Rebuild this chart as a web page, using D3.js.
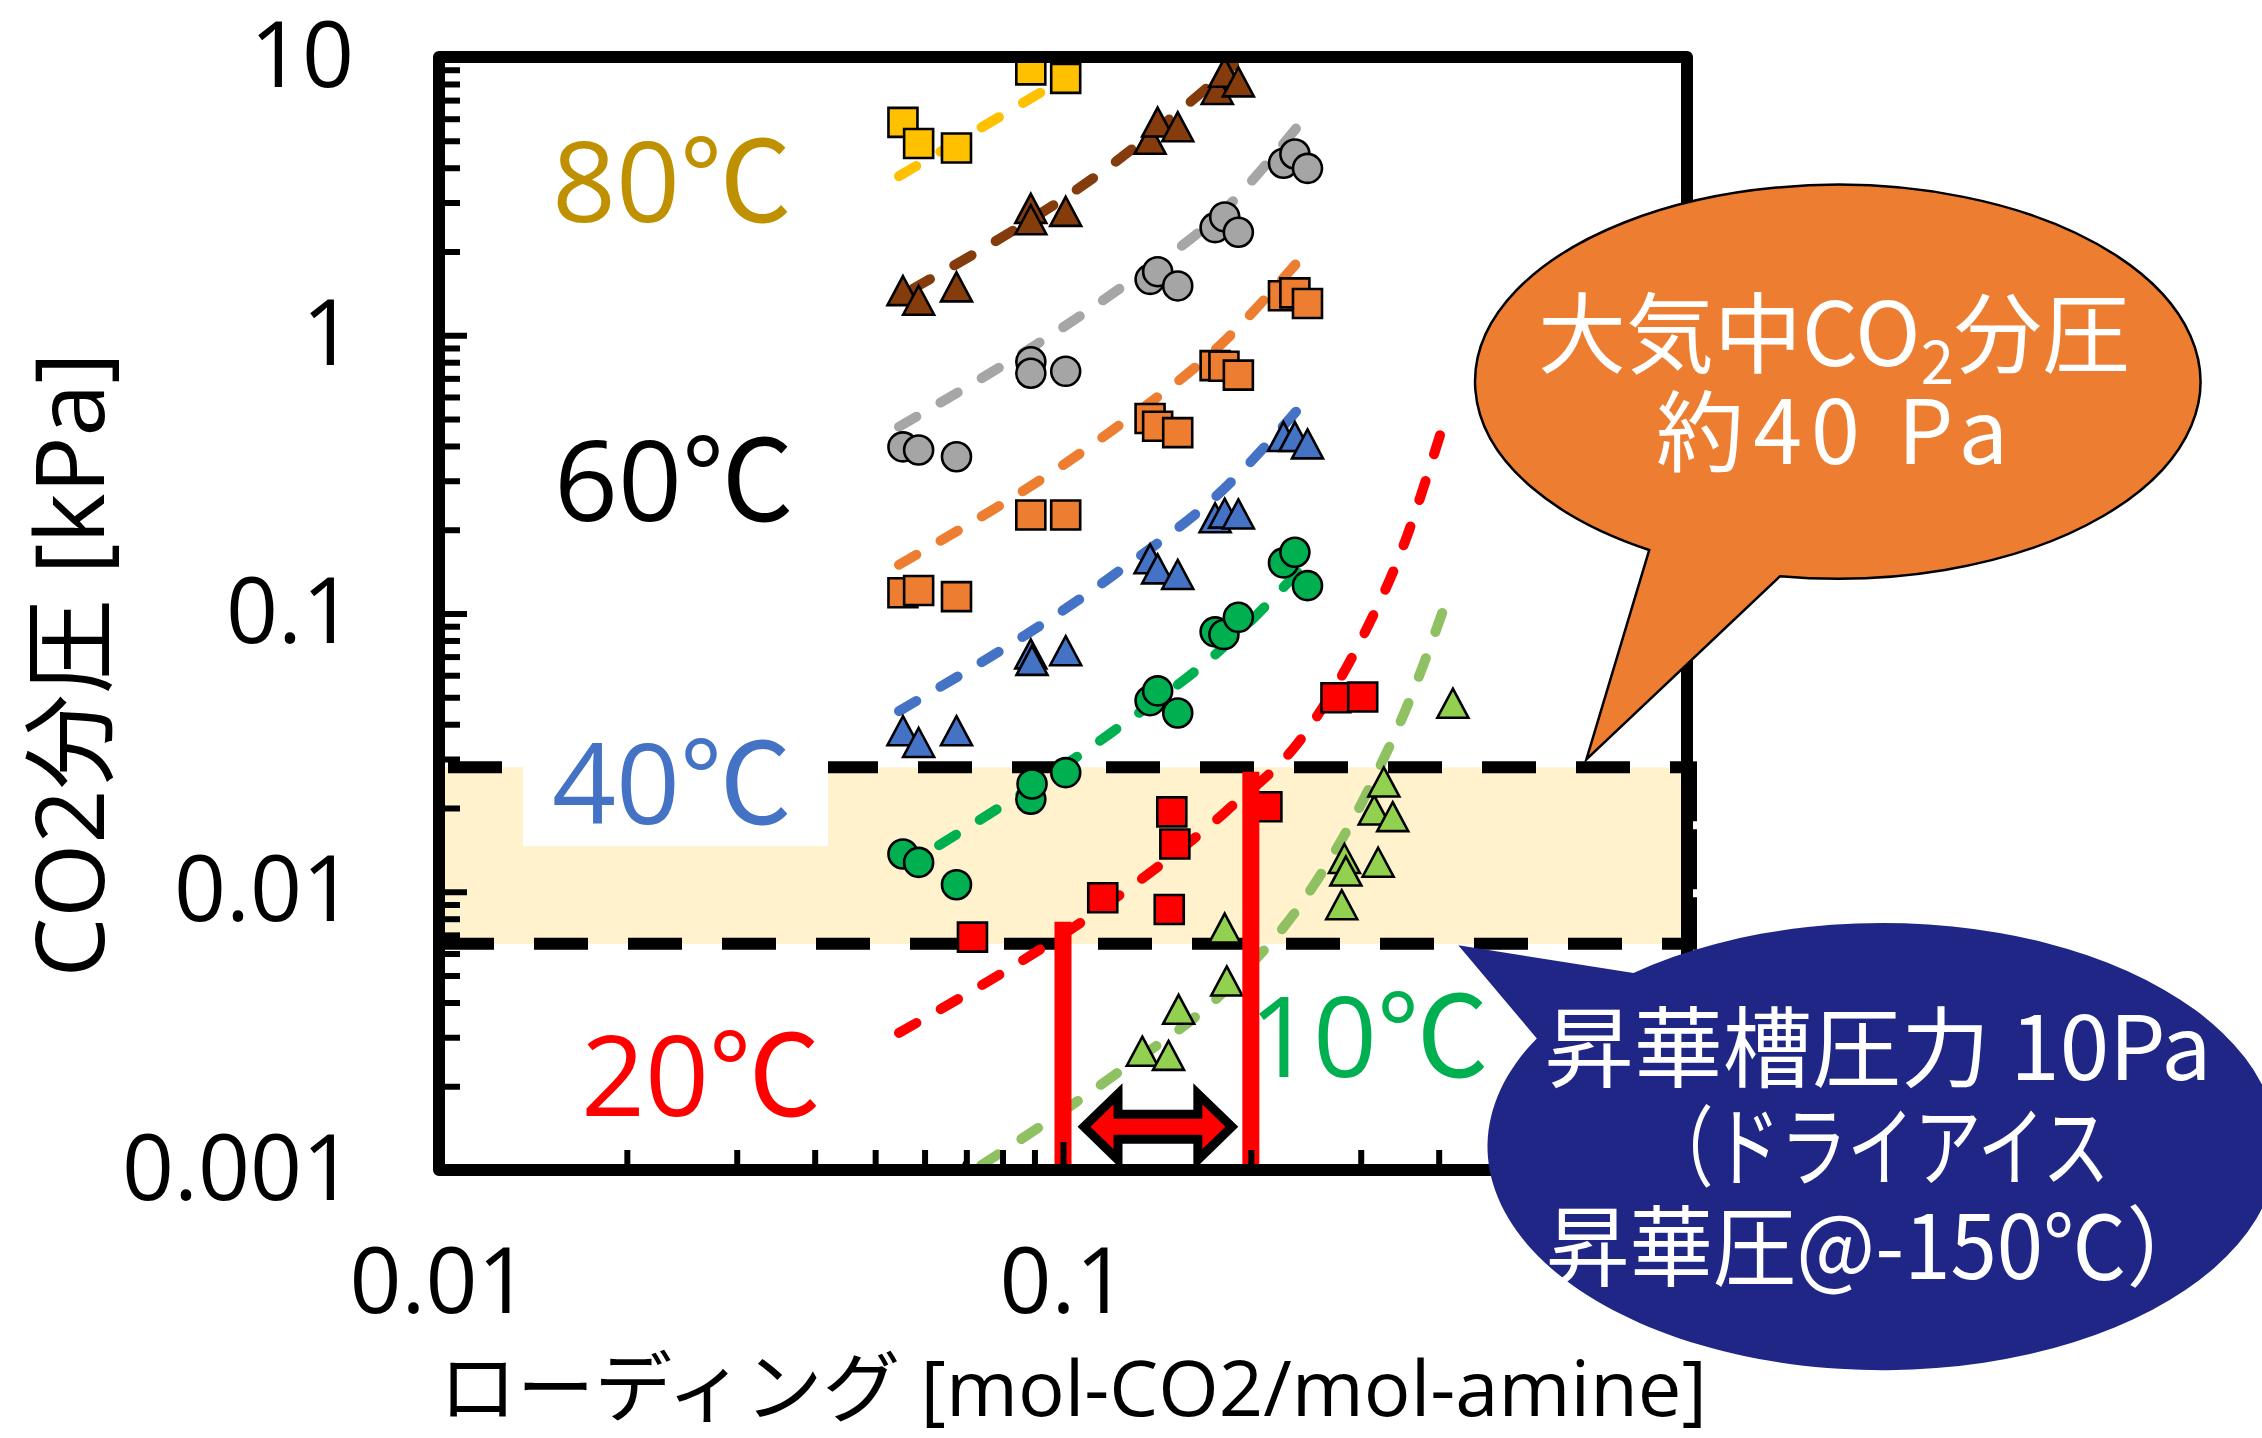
<!DOCTYPE html>
<html>
<head>
<meta charset="utf-8">
<script src="https://cdn.jsdelivr.net/npm/d3@7"></script>
<style>
  html, body { margin: 0; padding: 0; background: #ffffff; }
  svg { display: block; }
</style>
</head>
<body>
<svg id="chart" width="2262" height="1438"></svg>
<script>
// ---------------- data ----------------
// CO2 loading [mol-CO2/mol-amine] and CO2 partial pressure [kPa] per temperature
const loading80  = [0.0554, 0.0587, 0.0675, 0.0888, 0.101];
const pressure80 = [5.82, 4.89, 4.71, 8.99, 8.38];

const loading70  = [0.0554, 0.0587, 0.0675, 0.0888, 0.0888, 0.101, 0.1379, 0.1418, 0.1527, 0.1767, 0.1816, 0.191];
const pressure70 = [1.435, 1.325, 1.48, 2.835, 2.58, 2.765, 5.02, 5.79, 5.57, 7.58, 8.74, 8.07];

const loading60  = [0.0554, 0.0587, 0.0675, 0.0888, 0.0888, 0.101, 0.1379, 0.1418, 0.1527, 0.1753, 0.1816, 0.191, 0.2256, 0.2353, 0.2465];
const pressure60 = [0.397, 0.387, 0.366, 0.803, 0.730, 0.742, 1.588, 1.692, 1.504, 2.436, 2.662, 2.345, 4.15, 4.48, 3.98];

const loading50  = [0.0554, 0.0587, 0.0675, 0.0888, 0.101, 0.1379, 0.1418, 0.1527, 0.1753, 0.1811, 0.191, 0.2256, 0.2353, 0.2465];
const pressure50 = [0.1188, 0.121, 0.115, 0.226, 0.226, 0.502, 0.471, 0.4467, 0.778, 0.774, 0.7187, 1.386, 1.42, 1.30];

const loading40  = [0.0554, 0.0587, 0.0675, 0.0888, 0.0892, 0.101, 0.1379, 0.1418, 0.1527, 0.1753, 0.1816, 0.191, 0.2256, 0.2353, 0.2465];
const pressure40 = [0.0376, 0.0341, 0.0376, 0.0710, 0.0673, 0.0729, 0.156, 0.1435, 0.137, 0.219, 0.2275, 0.226, 0.429, 0.429, 0.4036];

const loading30  = [0.0554, 0.0587, 0.0675, 0.0888, 0.0892, 0.101, 0.1379, 0.1418, 0.1527, 0.1753, 0.1811, 0.191, 0.2256, 0.2353, 0.2465];
const pressure30 = [0.01367, 0.01275, 0.0106, 0.0215, 0.0244, 0.0268, 0.0486, 0.0527, 0.0439, 0.0859, 0.0840, 0.0969, 0.152, 0.166, 0.1259];

const loading20  = [0.0716, 0.1158, 0.148, 0.1494, 0.1511, 0.2122, 0.2738, 0.3022];
const pressure20 = [0.00687, 0.00952, 0.00863, 0.01936, 0.01484, 0.0202, 0.0498, 0.0501];

const loading10  = [0.0694, 0.134, 0.1476, 0.1532, 0.183, 0.1816, 0.2797, 0.2825, 0.2840, 0.3199, 0.3153, 0.3376, 0.3267, 0.4215];
const pressure10 = [0.00093, 0.00265, 0.00256, 0.00375, 0.00474, 0.00734, 0.00891, 0.01306, 0.01177, 0.01266, 0.0195, 0.01846, 0.0246, 0.0472];

// fitted isotherms (loading, pressure) points
const fit80 = [[0.0546, 3.73], [0.0948, 7.75]];
const fit70 = [[0.0574, 1.466], [0.1205, 4.15], [0.188, 9.37]];
const fit60 = [[0.0546, 0.469], [0.1205, 1.42], [0.183, 2.88], [0.2393, 5.73]];
const fit50 = [[0.0546, 0.1497], [0.1197, 0.454], [0.183, 0.971], [0.2375, 1.83]];
const fit40 = [[0.0546, 0.0446], [0.1197, 0.136], [0.183, 0.2868], [0.2393, 0.549]];
const fit30 = [[0.0633, 0.0147], [0.1197, 0.0374], [0.183, 0.0776], [0.2393, 0.143]];
const fit20 = [[0.0546, 0.00311], [0.1197, 0.00928], [0.183, 0.01956], [0.2427, 0.0363], [0.3088, 0.091], [0.3457, 0.1596], [0.404, 0.454]];
const fit10 = [[0.07398, 0.00104], [0.1197, 0.00216], [0.183, 0.00448], [0.2427, 0.00928], [0.3088, 0.02328], [0.3606, 0.0498], [0.407, 0.1033]];

// operating window: sublimation tank pressure band [kPa]
const bandLow = 0.0065;
const bandHigh = 0.028;
// working loading limits and where they meet the 20℃ isotherm
const windowLoading = [0.1, 0.2];
const windowTop = [0.0078, 0.027];
const arrowPressure = 0.00143;

// axis ticks
const xTickValues = [0.01, 0.1, 1];
const xLabelValues = [0.01, 0.1];
const xTickLabels = ["0.01", "0.1"];
const yTickValues = [0.001, 0.01, 0.1, 1, 10];
const yTickLabels = ["0.001", "0.01", "0.1", "1", "10"];

// ---------------- styles ----------------
const style = {
  80: { shape: "square",   fill: "#FFC000", line: "#FFC000" },
  70: { shape: "triangle", fill: "#843C0C", line: "#843C0C" },
  60: { shape: "circle",   fill: "#A5A5A5", line: "#A6A6A6" },
  50: { shape: "square",   fill: "#ED7D31", line: "#ED7D31" },
  40: { shape: "triangle", fill: "#4472C4", line: "#4472C4" },
  30: { shape: "circle",   fill: "#00B050", line: "#00B050" },
  20: { shape: "square",   fill: "#FF0000", line: "#FF0000" },
  10: { shape: "triangle", fill: "#92D050", line: "#8FC162" }
};

const series = [
  { t: 80, xs: loading80, ys: pressure80, fit: fit80 },
  { t: 70, xs: loading70, ys: pressure70, fit: fit70 },
  { t: 60, xs: loading60, ys: pressure60, fit: fit60 },
  { t: 50, xs: loading50, ys: pressure50, fit: fit50 },
  { t: 40, xs: loading40, ys: pressure40, fit: fit40 },
  { t: 30, xs: loading30, ys: pressure30, fit: fit30 },
  { t: 20, xs: loading20, ys: pressure20, fit: fit20 },
  { t: 10, xs: loading10, ys: pressure10, fit: fit10 }
];

// ---------------- layout ----------------
const svg = d3.select("#chart");
const x = d3.scaleLog().domain([0.01, 1]).range([439, 1687]);
const y = d3.scaleLog().domain([0.001, 10]).range([1170, 57]);
const X0 = x.range()[0], X1 = x.range()[1];
const Y0 = y.range()[0], Y1 = y.range()[1];

const latin = "'Open Sans', 'Noto Sans CJK JP', sans-serif";
const cjk = "'Noto Sans CJK JP', 'Open Sans', sans-serif";

const defs = svg.append("defs");
defs.append("clipPath").attr("id", "plotClip")
  .append("rect").attr("x", X0 - 6).attr("y", Y1 - 15)
  .attr("width", X1 - X0 + 12).attr("height", Y0 - Y1 + 15);

// pale band for the sublimation-pressure window
svg.append("rect")
  .attr("x", X0 + 6).attr("y", y(bandHigh))
  .attr("width", X1 - X0 - 6).attr("height", y(bandLow) - y(bandHigh))
  .attr("fill", "#FFF2CC");

const bandLines = svg.append("g").attr("stroke", "#000").attr("stroke-width", 12)
  .attr("stroke-dasharray", "54 40").attr("fill", "none");
bandLines.append("line").attr("x1", X0 + 9).attr("x2", X1 + 6)
  .attr("y1", y(bandHigh)).attr("y2", y(bandHigh));
bandLines.append("line").attr("x1", X0 + 1).attr("x2", X1 + 6)
  .attr("y1", y(bandLow)).attr("y2", y(bandLow));
bandLines.append("line").attr("x1", X1 + 4).attr("x2", X1 + 4)
  .attr("y1", y(bandHigh) - 6).attr("y2", y(bandLow) + 6)
  .attr("stroke-dasharray", "60 8");

// white backing behind the 40℃ label
svg.append("rect").attr("x", 523).attr("y", 700).attr("width", 305).attr("height", 146).attr("fill", "#fff");

// fitted isotherms
const plot = svg.append("g").attr("clip-path", "url(#plotClip)");
const lineGen = d3.line().x(d => x(d[0])).y(d => y(d[1])).curve(d3.curveMonotoneX);
plot.append("g").selectAll("path").data(series).join("path")
  .attr("d", s => lineGen(s.fit))
  .attr("fill", "none")
  .attr("stroke", s => style[s.t].line)
  .attr("stroke-width", 10)
  .attr("stroke-linecap", "round")
  .attr("stroke-dasharray", "20 28");

// measured points
const shapePath = {
  square: "M-14.5,-14.5H14.5V14.5H-14.5Z",
  triangle: "M0,-15.5L15.5,13.5L-15.5,13.5Z",
  circle: d3.arc()({ innerRadius: 0, outerRadius: 14.5, startAngle: 0, endAngle: 2 * Math.PI })
};
series.forEach(s => {
  const pts = s.xs.map((v, i) => [v, s.ys[i]]);
  plot.append("g").selectAll("path").data(pts).join("path")
    .attr("transform", d => `translate(${x(d[0])},${y(d[1])})`)
    .attr("d", shapePath[style[s.t].shape])
    .attr("fill", style[s.t].fill)
    .attr("stroke", "#000")
    .attr("stroke-width", 2.6)
    .attr("stroke-linejoin", "miter");
});

// working loading limits at 0.1 and 0.2
svg.append("g").selectAll("line").data(windowLoading).join("line")
  .attr("x1", d => x(d)).attr("x2", d => x(d))
  .attr("y1", Y0).attr("y2", (d, i) => y(windowTop[i]))
  .attr("stroke", "#FF0000").attr("stroke-width", 17);

// double-headed arrow between the limits
{
  const L = x(windowLoading[0]) + 21, R = x(windowLoading[1]) - 19, cy = y(arrowPressure);
  const hl = 34, hh = 33, sh = 12.5;
  const p = d3.path();
  p.moveTo(L, cy); p.lineTo(L + hl, cy - hh); p.lineTo(L + hl, cy - sh);
  p.lineTo(R - hl, cy - sh); p.lineTo(R - hl, cy - hh); p.lineTo(R, cy);
  p.lineTo(R - hl, cy + hh); p.lineTo(R - hl, cy + sh); p.lineTo(L + hl, cy + sh);
  p.lineTo(L + hl, cy + hh); p.closePath();
  svg.append("path").attr("d", p.toString()).attr("fill", "#FF0000")
    .attr("stroke", "#000").attr("stroke-width", 9).attr("stroke-linejoin", "miter");
}

// ---------------- axes ----------------
const decadesY = d3.range(-3, 1);
const yMinor = decadesY.flatMap(e => d3.range(2, 10).map(k => k * Math.pow(10, e)));
const decadesX = d3.range(-2, 0);
const xMinor = decadesX.flatMap(e => d3.range(2, 10).map(k => k * Math.pow(10, e)));

function styleTicks(g) {
  g.select(".domain").remove();
  g.selectAll(".tick line").attr("stroke", "#000").attr("stroke-width", 6);
  g.attr("font-family", null).attr("font-size", null);
}

svg.append("g").attr("transform", `translate(${X0},0)`)
  .call(d3.axisLeft(y).tickValues(yMinor).tickSize(-21).tickFormat(""))
  .call(styleTicks);
svg.append("g").attr("transform", `translate(${X0},0)`)
  .call(d3.axisLeft(y).tickValues(yTickValues).tickSize(-28).tickFormat(""))
  .call(styleTicks);
svg.append("g").attr("transform", `translate(0,${Y0})`)
  .call(d3.axisBottom(x).tickValues(xMinor).tickSize(-20).tickFormat(""))
  .call(styleTicks);
svg.append("g").attr("transform", `translate(0,${Y0})`)
  .call(d3.axisBottom(x).tickValues(xTickValues).tickSize(-28).tickFormat(""))
  .call(styleTicks);

// frame
svg.append("rect").attr("x", X0).attr("y", Y1)
  .attr("width", X1 - X0).attr("height", Y0 - Y1)
  .attr("fill", "none").attr("stroke", "#000").attr("stroke-width", 12)
  .attr("stroke-linejoin", "round");

// tick labels
const yLab = svg.append("g").attr("transform", `translate(${X0},0)`)
  .call(d3.axisLeft(y).tickValues(yTickValues).tickSize(0).tickPadding(85)
    .tickFormat((d, i) => yTickLabels[i]));
yLab.select(".domain").remove();
yLab.attr("font-family", latin).attr("font-size", 91);
yLab.selectAll("text").attr("fill", "#000");

const xLab = svg.append("g").attr("transform", `translate(0,${Y0})`)
  .call(d3.axisBottom(x).tickValues(xLabelValues).tickSize(0).tickPadding(78)
    .tickFormat((d, i) => xTickLabels[i]));
xLab.select(".domain").remove();
xLab.attr("font-family", latin).attr("font-size", 91);
xLab.selectAll("text").attr("fill", "#000");

// axis titles
svg.append("text")
  .attr("transform", "translate(104,665) rotate(-90)")
  .attr("text-anchor", "middle")
  .attr("font-family", latin).attr("font-size", 96)
  .attr("textLength", 625).attr("lengthAdjust", "spacingAndGlyphs")
  .text("CO2分圧 [kPa]");

svg.append("text")
  .attr("x", 1073).attr("y", 1416)
  .attr("text-anchor", "middle")
  .attr("font-family", latin).attr("font-size", 77)
  .attr("textLength", 1268).attr("lengthAdjust", "spacingAndGlyphs")
  .text("ローディング [mol-CO2/mol-amine]");

// temperature labels
const tempLabels = [
  { text: "80℃", x: 552, y: 222, color: "#BF9000" },
  { text: "60℃", x: 554, y: 521, color: "#000000" },
  { text: "40℃", x: 552, y: 824, color: "#4472C4" },
  { text: "20℃", x: 581, y: 1116, color: "#FF0000" },
  { text: "10℃", x: 1249, y: 1077, color: "#00B050" }
];
svg.append("g").selectAll("text").data(tempLabels).join("text")
  .attr("x", d => d.x).attr("y", d => d.y)
  .attr("font-family", latin).attr("font-size", 112)
  .attr("fill", d => d.color)
  .text(d => d.text);

// ---------------- callouts ----------------
function bubblePath(rx, ry, a, b, tip) {
  return `M${a[0]},${a[1]} A${rx},${ry} 0 1 1 ${b[0]},${b[1]} L${tip[0]},${tip[1]} Z`;
}

// atmospheric CO2 partial pressure
svg.append("path")
  .attr("d", bubblePath(362.7, 197, [1649.2, 550], [1780, 576.2], [1586.4, 759.3]))
  .attr("fill", "#ED7D31").attr("stroke", "#000").attr("stroke-width", 2.5);
{
  const t1 = svg.append("text").attr("x", 1834).attr("y", 366)
    .attr("text-anchor", "middle").attr("font-family", cjk).attr("font-size", 88).attr("fill", "#fff");
  t1.append("tspan").text("大気中CO");
  t1.append("tspan").attr("font-size", 60).attr("dy", 18).text("2");
  t1.append("tspan").attr("dy", -18).text("分圧");
  svg.append("text").attr("x", 1832).attr("y", 464)
    .attr("text-anchor", "middle").attr("font-family", cjk).attr("font-size", 88).attr("fill", "#fff")
    .attr("textLength", 352).attr("lengthAdjust", "spacing")
    .text("約40 Pa");
}

// sublimation tank pressure
svg.append("path")
  .attr("d", bubblePath(395, 223.6, [1633.5, 973], [1536.8, 1038.4], [1458.3, 945.3]))
  .attr("fill", "#1F2686");
const navyLines = [
  { text: "昇華槽圧力 10Pa", y: 1080, len: 667 },
  { text: "（ドライアイス", y: 1179, len: 463 },
  { text: "昇華圧@-150℃）", y: 1279, len: 664 }
];
svg.append("g").selectAll("text").data(navyLines).join("text")
  .attr("x", 1878).attr("y", d => d.y)
  .attr("text-anchor", "middle").attr("font-family", cjk).attr("font-size", 88).attr("fill", "#fff")
  .attr("textLength", d => d.len).attr("lengthAdjust", "spacingAndGlyphs")
  .text(d => d.text);
</script>
</body>
</html>
